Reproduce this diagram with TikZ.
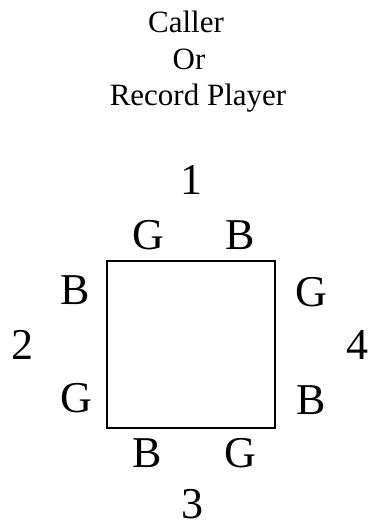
\documentclass[tikz,border=0pt]{standalone}
\usepackage{fontspec}
\setmainfont{Liberation Serif}
\begin{document}
\begin{tikzpicture}[x=1pt,y=1pt,
  title/.style={anchor=base,inner sep=0pt,font=\fontsize{31}{36}\selectfont},
  side/.style={anchor=base,inner sep=0pt,font=\fontsize{44}{50}\selectfont},
  box/.style={draw=black,line width=1.5pt}]
\useasboundingbox (0,0) rectangle (368,529);
\node[title] (caller) at (186,496) {Caller};
\node[title] (or) at (189,459) {Or};
\node[title] (record) at (198,423) {Record Player};
\coordinate (sqsw) at (107,101);
\coordinate (sqne) at (275,268);
\draw[box] (sqsw) rectangle (sqne);
\node[side] (n1) at (191.5,334) {1};
\node[side] (tg) at (148,279) {G};
\node[side] (tb) at (240,279) {B};
\node[side] (lb) at (75,224) {B};
\node[side] (n2) at (22,169) {2};
\node[side] (lg) at (76,116) {G};
\node[side] (rg) at (311,222) {G};
\node[side] (n4) at (357,169) {4};
\node[side] (rb) at (311,114) {B};
\node[side] (bb) at (147,61) {B};
\node[side] (bg) at (240,61) {G};
\node[side] (n3) at (192,10) {3};
\end{tikzpicture}
\end{document}
